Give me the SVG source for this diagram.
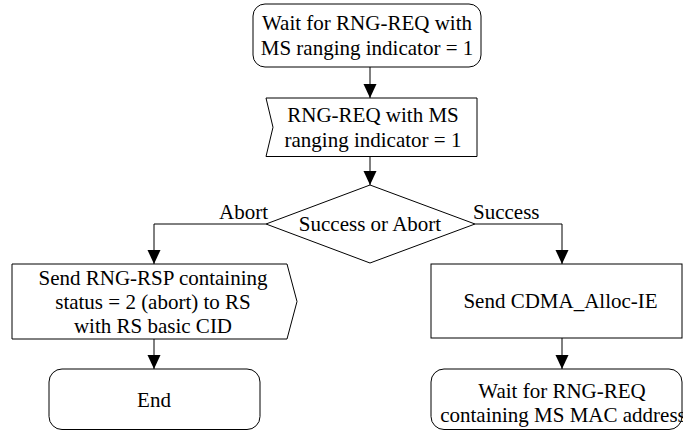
<svg xmlns="http://www.w3.org/2000/svg" width="683" height="431" viewBox="0 0 683 431">
<style>
.s{fill:#fff;stroke:#000;stroke-width:1}
.t{font-family:"Liberation Serif","Times New Roman",serif;font-size:21px;fill:#000;text-anchor:middle}
.l{font-family:"Liberation Serif","Times New Roman",serif;font-size:21px;fill:#000}
.c{fill:none;stroke:#000;stroke-width:1;marker-end:url(#arr)}
</style>
<defs>
<marker id="arr" viewBox="0 0 14 14" refX="14" refY="7" markerWidth="14" markerHeight="14" orient="auto" markerUnits="userSpaceOnUse">
<path d="M0,0.5 L14,7 L0,13.5 Z" fill="#000"/>
</marker>
</defs>
<rect width="683" height="431" fill="#fff"/>
<g id="connectors">
<path class="c" d="M370,67 V98"/>
<path class="c" d="M370,156.5 V185"/>
<path class="c" d="M266,224 H154 V264"/>
<path class="c" d="M475,224 H562 V264"/>
<path class="c" d="M154,339 V369"/>
<path class="c" d="M562,338 V369"/>
</g>
<g id="wait1">
<rect class="s" x="253" y="4" width="228" height="63" rx="12"/>
<text class="t" x="367" y="30">Wait for RNG-REQ with</text>
<text class="t" x="367" y="55">MS ranging indicator = 1</text>
</g>
<g id="input">
<path class="s" d="M266,98 H477 V156.5 H266 L273,127.25 Z"/>
<text class="t" x="373" y="121.5">RNG-REQ with MS</text>
<text class="t" x="373" y="146.5">ranging indicator = 1</text>
</g>
<g id="decision">
<path class="s" d="M370,185 L475,224 L370,263 L266,224 Z"/>
<text class="t" x="370" y="231">Success or Abort</text>
</g>
<g id="labels">
<text class="l" x="268" y="219" text-anchor="end">Abort</text>
<text class="l" x="473" y="219">Success</text>
</g>
<g id="sendrsp">
<path class="s" d="M12,264 H287 L297,301.5 L287,339 H12 Z"/>
<text class="t" x="153" y="284.5">Send RNG-RSP containing</text>
<text class="t" x="153" y="308.5">status = 2 (abort) to RS</text>
<text class="t" x="153" y="332.5">with RS basic CID</text>
</g>
<g id="end">
<rect class="s" x="49" y="369" width="211" height="60.5" rx="13"/>
<text class="t" x="154" y="407">End</text>
</g>
<g id="cdma">
<rect class="s" x="431" y="264" width="251" height="74"/>
<text class="t" x="560.5" y="308">Send CDMA_Alloc-IE</text>
</g>
<g id="wait2">
<rect class="s" x="431" y="369" width="251" height="60.5" rx="13"/>
<text class="t" x="562" y="398">Wait for RNG-REQ</text>
<text class="t" x="563" y="422">containing MS MAC address</text>
</g>
</svg>
